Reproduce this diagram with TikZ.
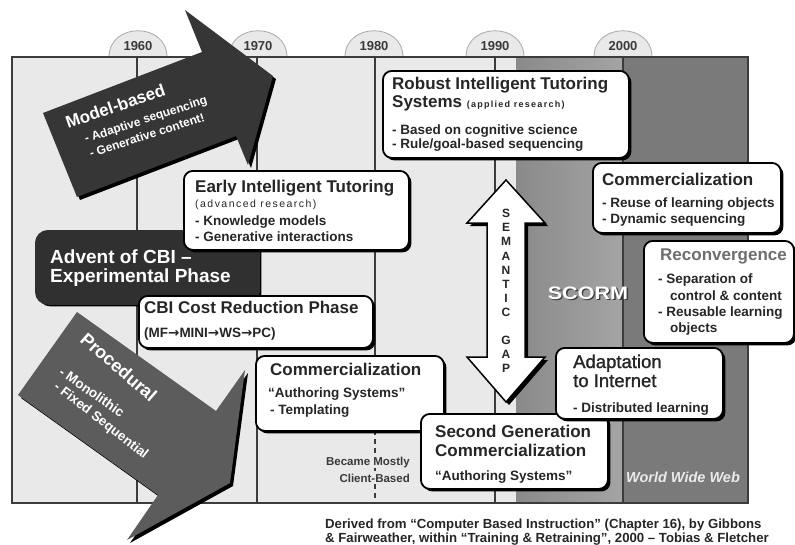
\documentclass[tikz,border=0pt]{standalone}
\usepackage{fontspec}
\setmainfont{Liberation Sans}
\newfontfamily\arrowfont{DejaVu Sans}
\newfontfamily\heavyfont{Liberation Sans}[FakeBold=1.3]
\usetikzlibrary{shadows}

\definecolor{panel}{HTML}{E9E9E9}
\definecolor{panelrule}{HTML}{3C3C3C}
\definecolor{tabedge}{HTML}{A8A8A8}
\definecolor{bandA}{HTML}{8A8A8A}
\definecolor{bandB}{HTML}{A4A4A4}
\definecolor{bandC}{HTML}{7A7A7A}
\definecolor{bandD}{HTML}{8E8E8E}
\definecolor{ink}{HTML}{262626}
\definecolor{modelfill}{HTML}{363636}
\definecolor{procfill}{HTML}{5C5C5C}
\definecolor{adventfill}{HTML}{303030}
\definecolor{softgrey}{HTML}{6E6E6E}
\definecolor{notegrey}{HTML}{3A3A3A}

\newcommand{\fsz}[1]{\fontsize{#1}{#1}\selectfont}
\newcommand{\spaced}{\addfontfeatures{LetterSpace=14}}
\newcommand{\nextto}{{\arrowfont\bfseries →}}

\begin{document}
\begin{tikzpicture}[x=1pt, y=-1pt,
  card/.style={draw=black, line width=1.8pt, fill=white, rounded corners=9pt,
    drop shadow={shadow xshift=2.5pt, shadow yshift=-2.5pt, fill=black, opacity=1},
    inner sep=0pt, anchor=north west},
  darkcard/.style={card, fill=adventfill, draw=adventfill, rounded corners=12pt},
  ttl/.style={font=\fsz{17}\bfseries, text=ink, inner sep=0pt, anchor=base west},
  ttlreg/.style={font=\fsz{18.5}\heavyfont, text=ink, inner sep=0pt, anchor=base west},
  itm/.style={font=\fsz{13.5}\bfseries, text=ink, inner sep=0pt, anchor=base west},
  note/.style={font=\fsz{10}\bfseries\spaced, text=ink, inner sep=0pt, anchor=base west},
  rev/.style={font=\fsz{19}\bfseries, text=white, inner sep=0pt, anchor=base west},
  arrowtxt/.style={text=white, inner sep=0pt, anchor=base west},
  year/.style={font=\fsz{13}\bfseries, text=notegrey, inner sep=0pt, anchor=base},
  decade/.style={draw=panelrule, line width=1.2pt},
  bigarrow/.style={drop shadow={shadow xshift=3pt, shadow yshift=-3pt, fill=black, opacity=1}},
]
\useasboundingbox (0,0) rectangle (795,544);
\fill[white] (0,0) rectangle (795,544);

% year tabs above the time line
\foreach \x/\yr in {138/1960, 258/1970, 374/1980, 495/1990, 623/2000}{
  \draw[fill=panel, draw=tabedge, line width=0.8pt]
    ({\x-29},57) .. controls ({\x-29},22) and ({\x+29},22) .. ({\x+29},57);
  \node[year] (yr\yr) at (\x,50) {\yr};
}

% panel and the two shaded bands on the right
\fill[panel] (12,57) rectangle (748,503);
\shade[left color=bandA, right color=bandB] (516,57) rectangle (623,503);
\shade[left color=bandC, middle color=bandD, right color=bandC] (623,57) rectangle (748,503);
\draw[panelrule, line width=1.5pt] (12,57) rectangle (748,503);

% decade rules
\coordinate (l60t) at (137,57);  \coordinate (l60b) at (137,503);
\coordinate (l70t) at (257,57);  \coordinate (l70b) at (257,503);
\coordinate (l80t) at (375,57);  \coordinate (l80m) at (375,430); \coordinate (l80b) at (375,503);
\coordinate (l90t) at (495,57);  \coordinate (l90b) at (495,503);
\coordinate (l00t) at (623,57);  \coordinate (l00b) at (623,503);
\draw[decade] (l60t) -- (l60b);
\draw[decade] (l70t) -- (l70b);
\draw[decade] (l80t) -- (l80m);
\draw[decade, dash pattern=on 5pt off 4pt] (l80m) -- (l80b);
\draw[decade] (l90t) -- (l90b);
\draw[decade] (l00t) -- (l00b);

% model-based arrow
\fill[modelfill, bigarrow] (43,113) -- (202,52) -- (185,10) -- (273,76) -- (248,165)
  -- (236,136) -- (77,197) -- cycle;
\node[arrowtxt, font=\fsz{17}\bfseries, rotate=19] (mbT) at (68,129) {Model-based};
\node[arrowtxt, font=\fsz{12}\bfseries, rotate=18] (mbA) at (86,143) {- Adaptive sequencing};
\node[arrowtxt, font=\fsz{12}\bfseries, rotate=18] (mbB) at (91,158) {- Generative content!};

% procedural arrow
\fill[procfill, bigarrow] (77,312) -- (216,411) -- (245,370) -- (230,483) -- (127,540)
  -- (158,495) -- (18,395) -- cycle;
\node[arrowtxt, font=\fsz{18}\bfseries, rotate=-41] (prT) at (79,341) {Procedural};
\node[arrowtxt, font=\fsz{13.5}\bfseries, rotate=-35] (prA) at (58,374) {- Monolithic};
\node[arrowtxt, font=\fsz{13.5}\bfseries, rotate=-38] (prB) at (53,388) {- Fixed Sequential};

% advent of CBI
\node[darkcard, minimum width=223pt, minimum height=73pt] (advent) at (35,230) {};
\node[rev] (adventA) at (50,263) {Advent of CBI –};
\node[rev] (adventB) at (50,282) {Experimental Phase};

% early intelligent tutoring
\node[card, minimum width=225pt, minimum height=79pt] (early) at (183,170) {};
\node[ttl] (earlyA) at (195,192) {Early Intelligent Tutoring};
\node[note, font=\fsz{10.5}\spaced] (earlyB) at (195,207) {(advanced research)};
\node[itm] (earlyC) at (195,225) {- Knowledge models};
\node[itm] (earlyD) at (195,241) {- Generative interactions};

% CBI cost reduction
\node[card, minimum width=234pt, minimum height=52pt] (cbi) at (138,295) {};
\node[ttl] (cbiA) at (144,313) {CBI Cost Reduction Phase};
\node[itm] (cbiB) at (144,337) {(MF\nextto MINI\nextto WS\nextto PC)};

% robust intelligent tutoring systems
\node[card, minimum width=246pt, minimum height=87pt] (robust) at (382,70) {};
\node[ttl] (robustA) at (392,89) {Robust Intelligent Tutoring};
\node[ttl] (robustB) at (392,107) {Systems {\fsz{9}\spaced(applied research)}};
\node[itm] (robustC) at (392,134) {- Based on cognitive science};
\node[itm] (robustD) at (392,148) {- Rule/goal-based sequencing};

% commercialization, learning objects
\node[card, minimum width=188pt, minimum height=70pt] (commhi) at (592,162) {};
\node[ttl] (commhiA) at (602,185) {Commercialization};
\node[itm] (commhiB) at (602,207) {- Reuse of learning objects};
\node[itm] (commhiC) at (602,223) {- Dynamic sequencing};

% reconvergence
\node[card, minimum width=150pt, minimum height=102pt] (reconv) at (643,240) {};
\node[ttl, text=softgrey] (reconvA) at (660,260) {Reconvergence};
\node[itm] (reconvB) at (658,283) {- Separation of};
\node[itm] (reconvC) at (670,300) {control \& content};
\node[itm] (reconvD) at (658,316) {- Reusable learning};
\node[itm] (reconvE) at (670,332) {objects};

% semantic gap double arrow
\fill[white, draw=black, line width=1.5pt, bigarrow]
  (506,180) -- (545,223) -- (525,223) -- (525,357) -- (545,357) -- (506,402)
  -- (467,357) -- (487,357) -- (487,223) -- (467,223) -- cycle;
\node[font=\fsz{12}\bfseries, text=ink, align=center, inner sep=0pt, anchor=north,
  execute at begin node=\setlength{\baselineskip}{14.2pt}] (gap) at (506,209)
  {S\\E\\M\\A\\N\\T\\I\\C\\[13.4pt]G\\A\\P};

% SCORM label
\node[font=\fsz{18}\bfseries, text=notegrey, inner sep=0pt] (scormShade) at (589.3,294.3)
  {\scalebox{1.2}[1]{SCORM}};
\node[font=\fsz{18}\bfseries, text=white, inner sep=0pt] (scorm) at (588,293)
  {\scalebox{1.2}[1]{SCORM}};

% commercialization, authoring systems
\node[card, minimum width=188pt, minimum height=75pt] (commlo) at (255,355) {};
\node[ttl] (commloA) at (270,375) {Commercialization};
\node[itm] (commloB) at (268,397) {“Authoring Systems”};
\node[itm] (commloC) at (270,414) {- Templating};

% client-based note on the 1980 rule
\node[font=\fsz{11.5}\bfseries, text=notegrey, fill=panel, inner sep=1pt, anchor=base east]
  (clientA) at (411,465) {Became Mostly};
\node[font=\fsz{11.5}\bfseries, text=notegrey, fill=panel, inner sep=1pt, anchor=base east]
  (clientB) at (411,482) {Client-Based};

% second generation commercialization
\node[card, minimum width=187pt, minimum height=75pt] (second) at (420,413) {};
\node[ttl] (secondA) at (435,437) {Second Generation};
\node[ttl] (secondB) at (435,456) {Commercialization};
\node[itm] (secondC) at (435,480) {“Authoring Systems”};

% adaptation to internet
\node[card, minimum width=167pt, minimum height=71pt] (adapt) at (555,347) {};
\node[ttlreg] (adaptA) at (573,368) {Adaptation};
\node[ttlreg] (adaptB) at (573,387) {to Internet};
\node[itm] (adaptC) at (573,412) {- Distributed learning};

% world wide web label
\node[font=\fsz{14.5}\bfseries\itshape, text=white!92!black, inner sep=0pt, anchor=base]
  (www) at (683,482) {World Wide Web};

% source line
\node[font=\fsz{13.2}\bfseries, text=ink, inner sep=0pt, anchor=base west] (srcA) at (325,528)
  {Derived from “Computer Based Instruction” (Chapter 16), by Gibbons};
\node[font=\fsz{13.2}\bfseries, text=ink, inner sep=0pt, anchor=base west] (srcB) at (325,542)
  {\& Fairweather, within “Training \& Retraining”, 2000 – Tobias \& Fletcher};
\end{tikzpicture}
\end{document}
